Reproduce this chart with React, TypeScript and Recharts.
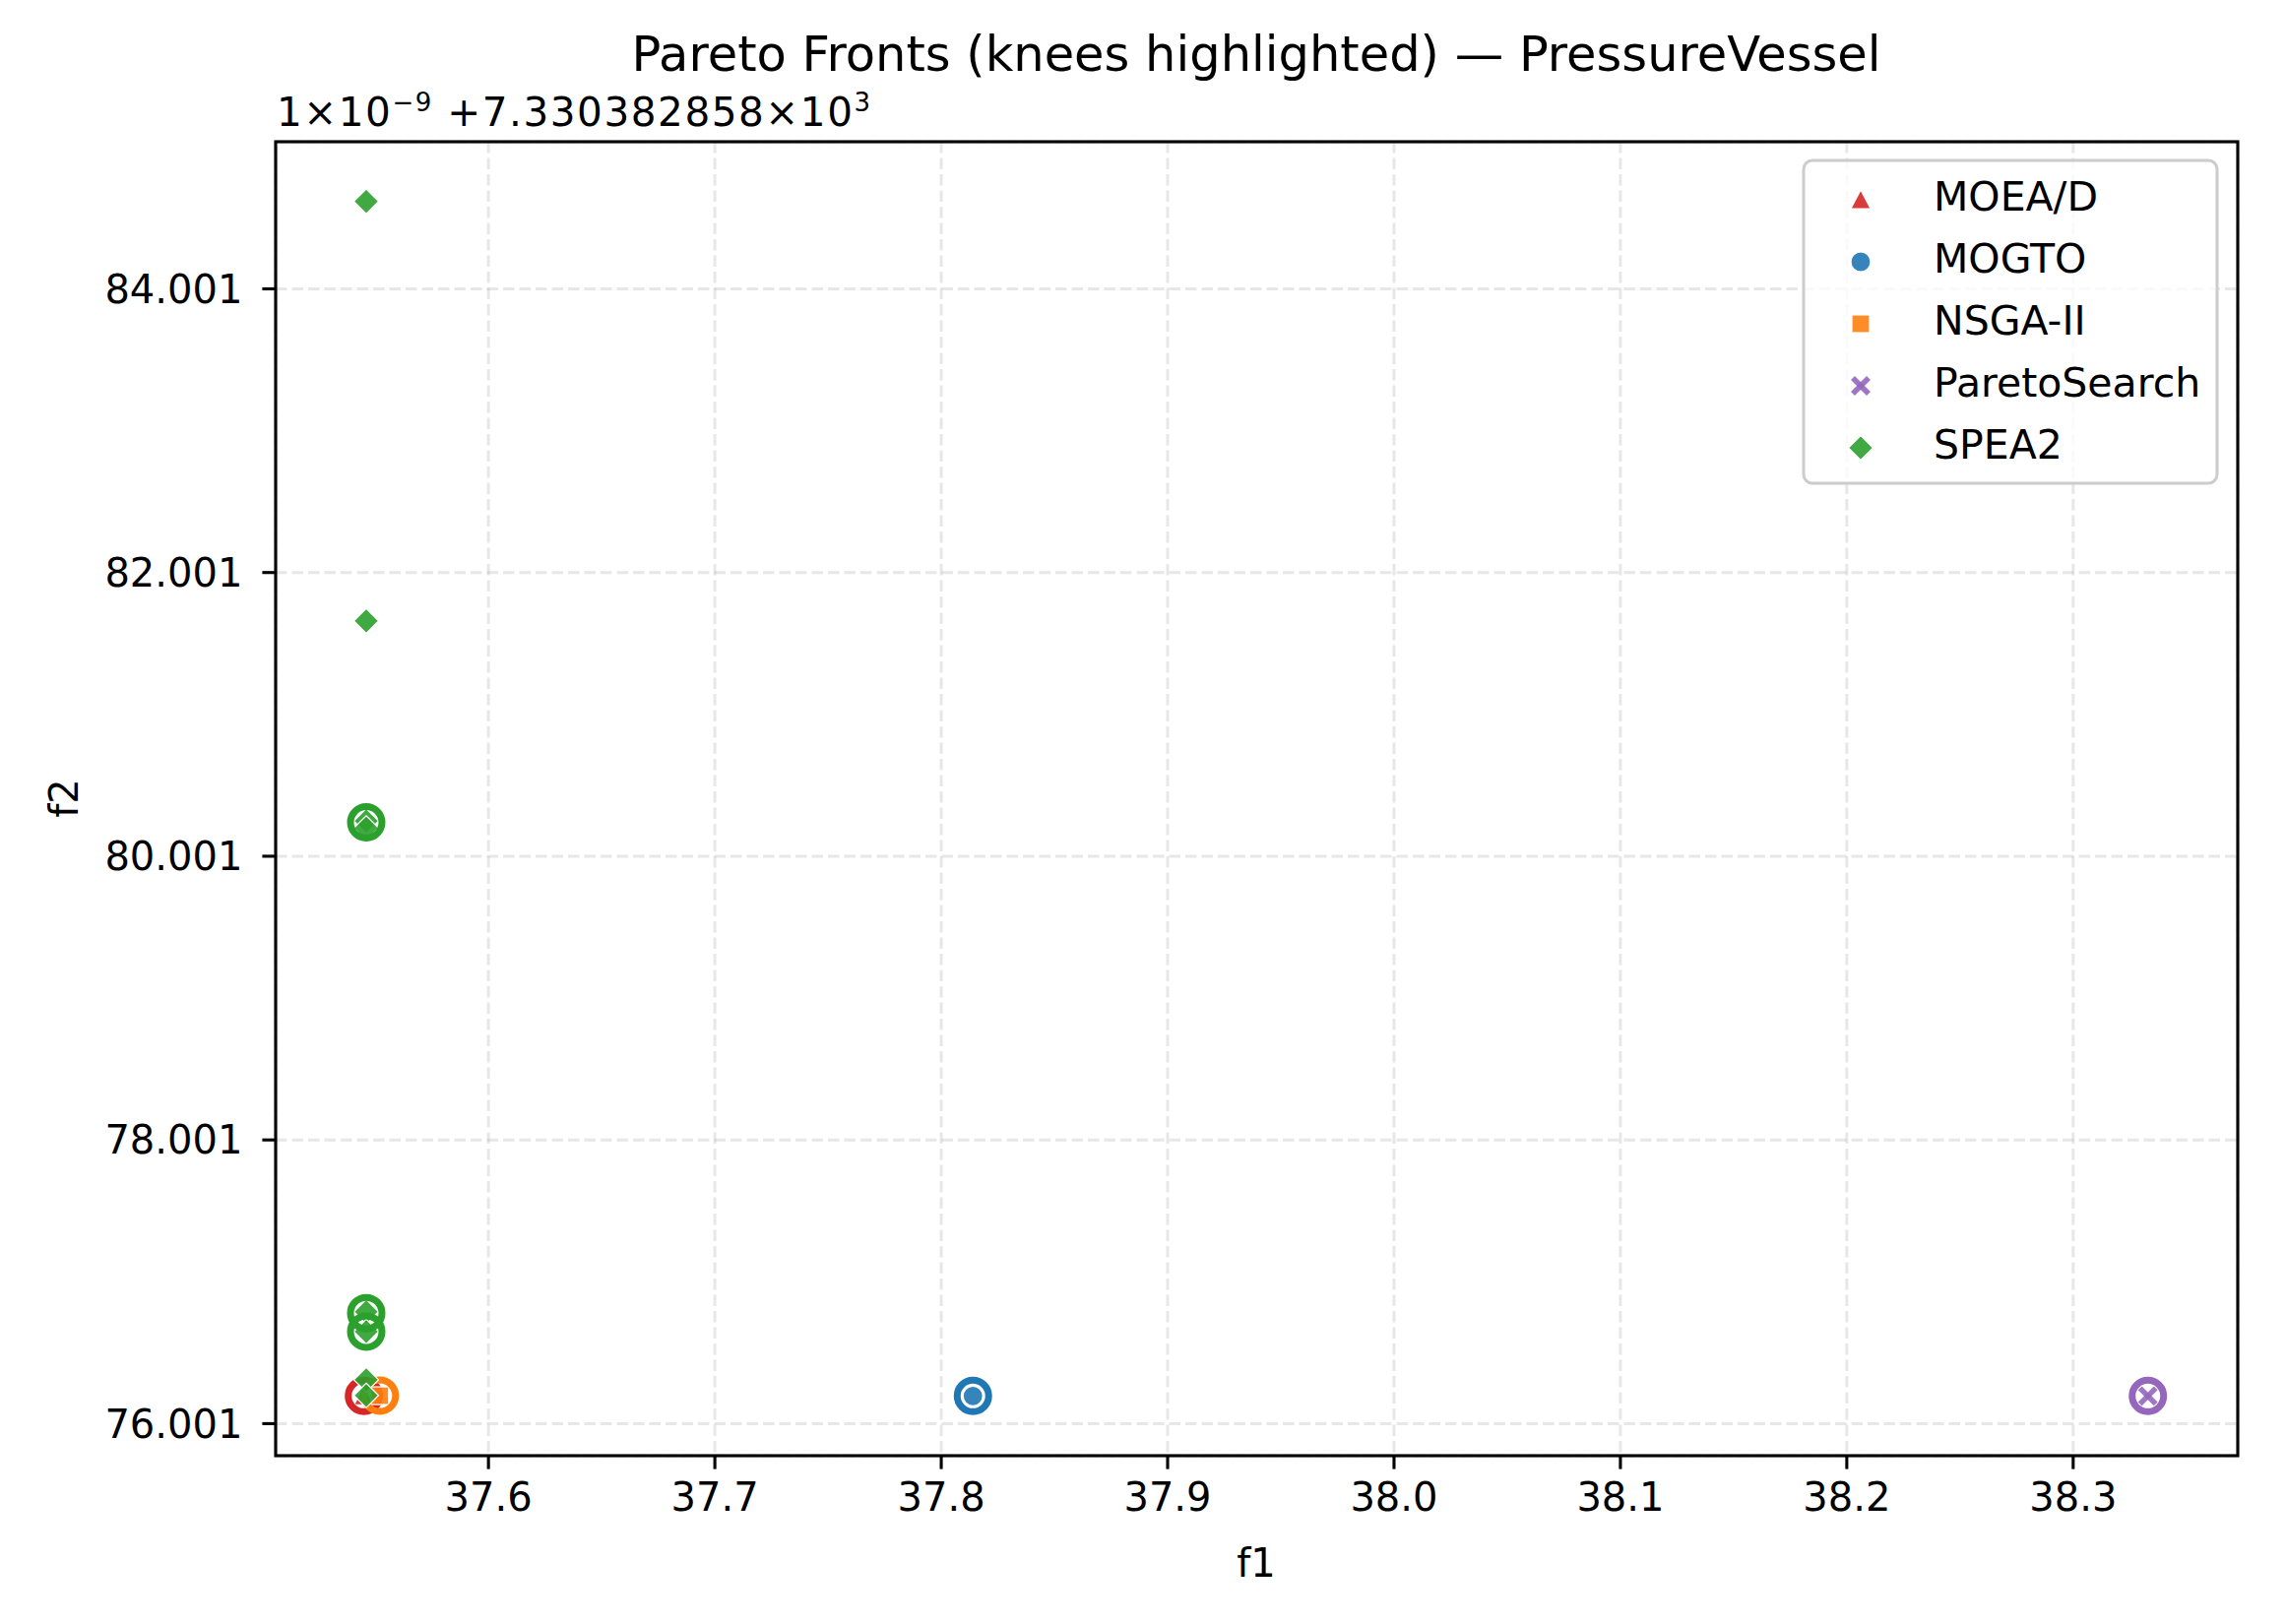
import { CartesianGrid, Customized, Scatter, ScatterChart, XAxis, YAxis } from "recharts";

// Series meta
const ALGORITHMS = ["MOEA/D", "MOGTO", "NSGA-II", "ParetoSearch", "SPEA2"];
const COLORS = ["#d62728", "#1f77b4", "#ff7f0e", "#9467bd", "#2ca02c"];
const MARKERS = ["triangle", "circle", "square", "cross", "diamond"];

// Front points: f1, and f2 in units of 1e-9 above 7330.382858e3 offset
const MOEAD_F1 = [37.545];
const MOEAD_F2 = [76.196];
const MOGTO_F1 = [37.814];
const MOGTO_F2 = [76.196];
const NSGA2_F1 = [37.552];
const NSGA2_F2 = [76.198];
const PARETO_F1 = [38.333];
const PARETO_F2 = [76.196];
const SPEA2_F1 = [37.546, 37.546, 37.546, 37.546, 37.546, 37.546, 37.546, 37.546];
const SPEA2_F2 = [84.617, 81.66, 80.25, 80.2, 76.79, 76.65, 76.31, 76.2];

// Knee points
const MOEAD_KNEE_F1 = [37.545];
const MOEAD_KNEE_F2 = [76.196];
const MOGTO_KNEE_F1 = [37.814];
const MOGTO_KNEE_F2 = [76.196];
const NSGA2_KNEE_F1 = [37.552];
const NSGA2_KNEE_F2 = [76.198];
const PARETO_KNEE_F1 = [38.333];
const PARETO_KNEE_F2 = [76.196];
const SPEA2_KNEE_F1 = [37.546, 37.546, 37.546];
const SPEA2_KNEE_F2 = [80.24, 76.78, 76.65];

// Axes
const X_TICKS = [37.6, 37.7, 37.8, 37.9, 38.0, 38.1, 38.2, 38.3];
const Y_TICKS = [76.001, 78.001, 80.001, 82.001, 84.001];
const X_DOMAIN = [37.506, 38.3727];
const Y_DOMAIN = [75.775, 85.038];

const FONT = "DejaVu Sans";

const zip = (xs: number[], ys: number[]) => xs.map((x, i) => ({ x, y: ys[i] }));

const FRONTS = [
  zip(MOEAD_F1, MOEAD_F2),
  zip(MOGTO_F1, MOGTO_F2),
  zip(NSGA2_F1, NSGA2_F2),
  zip(PARETO_F1, PARETO_F2),
  zip(SPEA2_F1, SPEA2_F2),
];
const KNEES = [
  zip(MOEAD_KNEE_F1, MOEAD_KNEE_F2),
  zip(MOGTO_KNEE_F1, MOGTO_KNEE_F2),
  zip(NSGA2_KNEE_F1, NSGA2_KNEE_F2),
  zip(PARETO_KNEE_F1, PARETO_KNEE_F2),
  zip(SPEA2_KNEE_F1, SPEA2_KNEE_F2),
];

function Marker({ kind, cx, cy, color }: { kind: string; cx: number; cy: number; color: string }) {
  const common = { fill: color, fillOpacity: 0.9, stroke: "#ffffff", strokeWidth: 1.2 };
  switch (kind) {
    case "triangle":
      return <polygon points={`${cx},${cy - 10} ${cx - 10},${cy + 9} ${cx + 10},${cy + 9}`} {...common} />;
    case "circle":
      return <circle cx={cx} cy={cy} r={10} {...common} />;
    case "square":
      return <rect x={cx - 9} y={cy - 9} width={18} height={18} {...common} />;
    case "cross":
      return (
        <g stroke={color} strokeOpacity={0.9} strokeWidth={5.5}>
          <line x1={cx - 8} y1={cy - 8} x2={cx + 8} y2={cy + 8} />
          <line x1={cx - 8} y1={cy + 8} x2={cx + 8} y2={cy - 8} />
        </g>
      );
    default:
      return (
        <polygon
          points={`${cx},${cy - 12.5} ${cx + 12.5},${cy} ${cx},${cy + 12.5} ${cx - 12.5},${cy}`}
          {...common}
        />
      );
  }
}

// Title, offset text, axis labels, frame and legend
function Overlay() {
  return (
    <g fontFamily={FONT} fill="#000">
      <rect x={280} y={144} width={1993} height={1335} fill="none" stroke="#000" strokeWidth={3.1} />
      <text x={1276} y={72} fontSize={49.5} textAnchor="middle">
        Pareto Fronts (knees highlighted) — PressureVessel
      </text>
      <text x={281} y={128} fontSize={40.5} textLength={603} lengthAdjust="spacing">
        1×10
        <tspan fontSize={26} dy={-15}>−9</tspan>
        <tspan dy={15}> +7.330382858×10</tspan>
        <tspan fontSize={26} dy={-15}>3</tspan>
      </text>
      <text x={1276} y={1602} fontSize={40} textAnchor="middle">
        f1
      </text>
      <text x={79} y={811} fontSize={40} textAnchor="middle" transform="rotate(-90, 79, 811)">
        f2
      </text>
      <rect x={1832} y={163} width={420} height={328} rx={9} fill="#ffffff" fillOpacity={0.8} stroke="#cccccc" strokeWidth={3} />
      {ALGORITHMS.map((name, i) => (
        <g key={name}>
          <Marker kind={MARKERS[i]} cx={1890} cy={203 + i * 63} color={COLORS[i]} />
          <text x={1964} y={214 + i * 63} fontSize={41}>
            {name}
          </text>
        </g>
      ))}
    </g>
  );
}

export default function App() {
  return (
    <div style={{ position: "absolute", left: 0, top: 0, background: "#fff" }}>
      <ScatterChart width={2322} height={1650} margin={{ top: 144, right: 49, bottom: 51, left: 80 }}>
        <CartesianGrid stroke="#b0b0b0" strokeOpacity={0.3} strokeWidth={3} strokeDasharray="11.5 5" />
        <XAxis
          type="number"
          dataKey="x"
          domain={X_DOMAIN}
          ticks={X_TICKS}
          allowDataOverflow
          height={120}
          axisLine={false}
          tickSize={13.6}
          tickMargin={14}
          tickLine={{ stroke: "#000", strokeWidth: 3.1 }}
          tickFormatter={(v: number) => v.toFixed(1)}
          tick={{ fill: "#000", fontSize: 40, fontFamily: FONT }}
          interval={0}
        />
        <YAxis
          type="number"
          dataKey="y"
          domain={Y_DOMAIN}
          ticks={Y_TICKS}
          allowDataOverflow
          width={200}
          axisLine={false}
          tickSize={13.6}
          tickMargin={20}
          tickLine={{ stroke: "#000", strokeWidth: 3.1 }}
          tickFormatter={(v: number) => v.toFixed(3)}
          tick={{ fill: "#000", fontSize: 40, fontFamily: FONT }}
          interval={0}
        />
        {ALGORITHMS.map((name, i) => [
          <Scatter
            key={`${name}-front`}
            name={name}
            data={FRONTS[i]}
            isAnimationActive={false}
            shape={(p: any) => <Marker kind={MARKERS[i]} cx={p.cx} cy={p.cy} color={COLORS[i]} />}
          />,
          <Scatter
            key={`${name}-knee`}
            name={`${name} knee`}
            data={KNEES[i]}
            isAnimationActive={false}
            shape={(p: any) => <circle cx={p.cx} cy={p.cy} r={16} fill="none" stroke={COLORS[i]} strokeWidth={7} />}
          />,
        ])}
        <Customized component={<Overlay />} />
      </ScatterChart>
    </div>
  );
}
